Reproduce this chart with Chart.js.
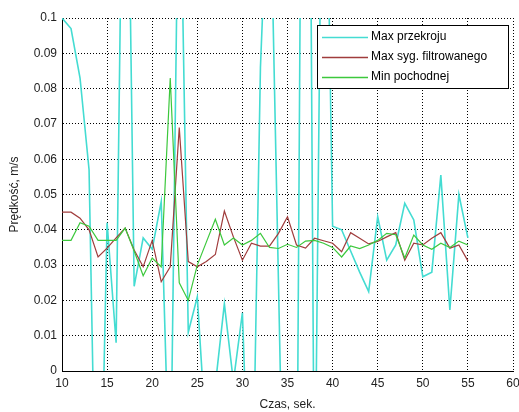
<!DOCTYPE html>
<html>
<head>
<meta charset="utf-8">
<script src="https://cdn.jsdelivr.net/npm/chart.js@4/dist/chart.umd.min.js"></script>
<style>
  html, body { margin: 0; padding: 0; background: #fff; }
  #wrap { width: 519px; height: 412px; }
</style>
</head>
<body>
<div id="wrap"><canvas id="chart" width="519" height="412"></canvas></div>
<script>
// time axis, seconds
var seconds = [10, 11, 12, 13, 14, 15, 16, 17, 18, 19, 20, 21, 22, 23, 24, 25,
  26, 27, 28, 29, 30, 31, 32, 33, 34, 35, 36, 37, 38, 39, 40, 41, 42, 43, 44,
  45, 46, 47, 48, 49, 50, 51, 52, 53, 54, 55];

var seriesNames = ["Max przekroju", "Max syg. filtrowanego", "Min pochodnej"];

// speed, m/s (values outside 0..0.1 run off the plot)
var maxSection = [0.100, 0.097, 0.083, 0.057, -0.080, 0.042, 0.008, 0.210, 0.024,
  0.0377, 0.0345, 0.048, -0.040, 0.160, 0.011, 0.021, -0.020, -0.004, 0.019, -0.003,
  0.0165, -0.057, 0.086, 0.150, 0.025, -0.100, -0.060, 0.350, -0.050, 0.200,
  0.041, 0.040, 0.034, 0.028, 0.0225, 0.0437, 0.0314, 0.0357, 0.0475, 0.0428,
  0.0267, 0.028, 0.0555, 0.0173, 0.050, 0.0377];

var maxFiltered = [0.045, 0.045, 0.0433, 0.040, 0.0323, 0.0348, 0.0377, 0.0405,
  0.0343, 0.0295, 0.037, 0.0253, 0.0295, 0.069, 0.031, 0.0295, 0.031, 0.033,
  0.0453, 0.038, 0.0314, 0.0362, 0.0354, 0.0354, 0.039, 0.0437, 0.0357, 0.0348,
  0.0376, 0.0369, 0.0362, 0.0338, 0.0392, 0.0376, 0.036, 0.0367, 0.038, 0.0392,
  0.0314, 0.0362, 0.0357, 0.0376, 0.0392, 0.0348, 0.0357, 0.0312];

var minDerivative = [0.037, 0.037, 0.042, 0.041, 0.037, 0.037, 0.037, 0.0405,
  0.034, 0.027, 0.032, 0.0295, 0.083, 0.025, 0.020, 0.030, 0.0365, 0.043,
  0.0357, 0.0377, 0.0357, 0.037, 0.039, 0.035, 0.0347, 0.0359, 0.035, 0.0368,
  0.037, 0.0362, 0.035, 0.0323, 0.0354, 0.0347, 0.0357, 0.037, 0.039, 0.0386,
  0.032, 0.0385, 0.0357, 0.0345, 0.0362, 0.035, 0.0368, 0.0357];

var xTicks = [10, 15, 20, 25, 30, 35, 40, 45, 50, 55, 60];
var yTicks = [0, 0.01, 0.02, 0.03, 0.04, 0.05, 0.06, 0.07, 0.08, 0.09, 0.1];

var colors = ["#44dcd2", "#a03c3c", "#3cc83c"];
var FONT = "'Liberation Sans', Arial, sans-serif";

function pairs(ys) {
  return ys.map(function (y, i) { return { x: seconds[i], y: y }; });
}

// legend box drawn in the upper right of the plot, MATLAB style
var boxLegend = {
  id: "boxLegend",
  afterDatasetsDraw: function (chart) {
    var ctx = chart.ctx;
    var left = 317, top = 25, right = 508, bottom = 88;
    ctx.save();
    ctx.fillStyle = "#fff";
    ctx.fillRect(left, top, right - left, bottom - top);
    ctx.strokeStyle = "#000";
    ctx.lineWidth = 1;
    ctx.strokeRect(left + 0.5, top + 0.5, right - left, bottom - top);
    ctx.font = "12px " + FONT;
    ctx.textBaseline = "middle";
    chart.data.datasets.forEach(function (ds, i) {
      var y = 37 + i * 20;
      ctx.strokeStyle = ds.borderColor;
      ctx.lineWidth = 1.5;
      ctx.beginPath();
      ctx.moveTo(322, y + 0.5);
      ctx.lineTo(368, y + 0.5);
      ctx.stroke();
      ctx.fillStyle = "#000";
      ctx.fillText(ds.label, 371, y);
    });
    ctx.restore();
  }
};

new Chart(document.getElementById("chart"), {
  type: "line",
  data: {
    datasets: [
      { label: seriesNames[0], data: pairs(maxSection), borderColor: colors[0], borderWidth: 1.6, order: 2 },
      { label: seriesNames[1], data: pairs(maxFiltered), borderColor: colors[1], borderWidth: 1.2, order: 1 },
      { label: seriesNames[2], data: pairs(minDerivative), borderColor: colors[2], borderWidth: 1.2, order: 0 }
    ]
  },
  options: {
    responsive: false,
    animation: false,
    events: [],
    layout: { padding: { left: 0, top: 18, right: 6, bottom: 0 } },
    elements: { point: { radius: 0 }, line: { tension: 0, fill: false } },
    plugins: { legend: { display: false }, tooltip: { enabled: false } },
    scales: {
      x: {
        type: "linear",
        min: 10,
        max: 60,
        afterBuildTicks: function (scale) {
          scale.ticks = xTicks.map(function (v) { return { value: v }; });
        },
        afterFit: function (scale) {
          scale.height = 41;
          scale.paddingLeft = 0;
          scale.paddingRight = 6;
        },
        grid: { color: "#000", drawTicks: false },
        border: { display: true, color: "#000", width: 1, dash: [1, 2] },
        ticks: { color: "#222", font: { family: FONT, size: 12 }, padding: 5, maxRotation: 0 },
        title: { display: true, text: "Czas, sek.", color: "#222", font: { family: FONT, size: 12 }, padding: { top: 4, bottom: 0 } }
      },
      y: {
        min: 0,
        max: 0.1,
        afterBuildTicks: function (scale) {
          scale.ticks = yTicks.map(function (v) { return { value: v }; });
        },
        afterFit: function (scale) { scale.width = 62; },
        grid: { color: "#000", drawTicks: false },
        border: { display: true, color: "#000", width: 1, dash: [1, 2] },
        ticks: {
          color: "#222",
          font: { family: FONT, size: 12 },
          padding: 5,
          callback: function (v) { return String(Number(v.toFixed(2))); }
        },
        title: { display: true, text: "Prędkość, m/s", color: "#222", font: { family: FONT, size: 12 }, padding: { top: 7, bottom: 0 } }
      }
    }
  },
  plugins: [boxLegend]
});
</script>
</body>
</html>
